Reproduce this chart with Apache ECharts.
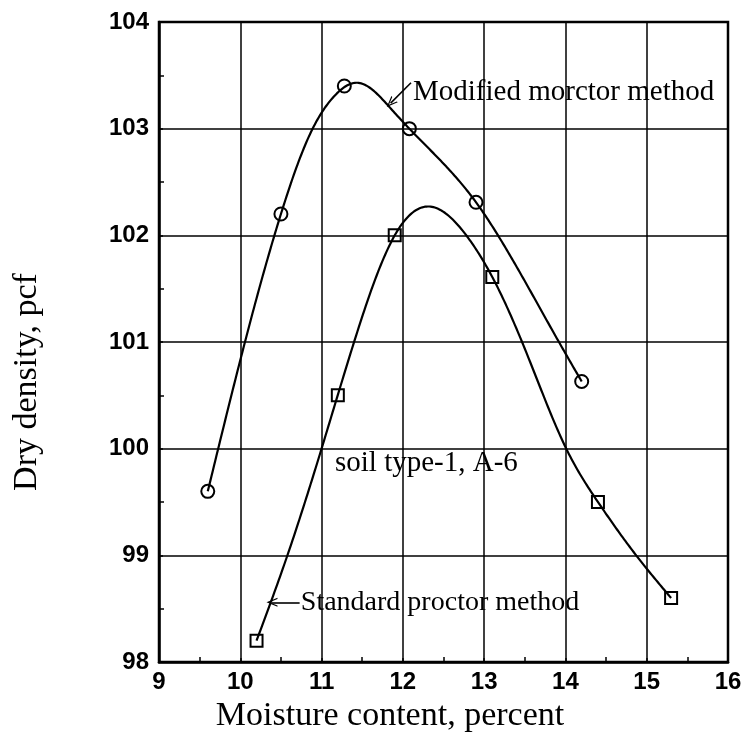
<!DOCTYPE html>
<html>
<head>
<meta charset="utf-8">
<script src="https://cdn.jsdelivr.net/npm/echarts@6/dist/echarts.min.js"></script>
<style>
html,body{margin:0;padding:0;background:#fff;}
#chart{width:746px;height:741px;}
</style>
</head>
<body>
<div id="chart"></div>
<script>
// ---- data ----
var xTicks = [9, 10, 11, 12, 13, 14, 15, 16];
var yTicks = [98, 99, 100, 101, 102, 103, 104];

// measured points
var modifiedX = [9.6, 10.5, 11.28, 12.08, 12.9, 14.2];
var modifiedY = [99.6, 102.2, 103.4, 103.0, 102.31, 100.63];
var standardX = [10.2, 11.2, 11.9, 13.1, 14.4, 15.3];
var standardY = [98.2, 100.5, 102.0, 101.61, 99.5, 98.6];

// fitted curves, points
var modifiedCurveX = [9.6, 10.0, 10.5, 10.89, 11.15, 11.45, 11.85, 12.08, 12.9, 13.17, 13.92, 14.2];
var modifiedCurveY = [99.6, 100.83, 102.2, 103.0, 103.3, 103.43, 103.19, 103.0, 102.31, 102.0, 101.0, 100.63];
var standardCurveX = [10.2, 10.58, 11.0, 11.4, 11.9, 12.33, 12.78, 13.1, 13.52, 14.01, 14.4, 14.87, 15.3];
var standardCurveY = [98.2, 99.0, 100.0, 101.0, 102.0, 102.27, 102.0, 101.61, 100.9, 100.0, 99.5, 99.0, 98.6];

var labels = {
  modified: 'Modified morctor method',
  standard: 'Standard proctor method',
  soil: 'soil type-1, A-6',
  xTitle: 'Moisture content, percent',
  yTitle: 'Dry density, pcf'
};

function zip(a, b) { return a.map(function (v, i) { return [v, b[i]]; }); }

// natural cubic spline through the read curve points (used only to draw the smooth line)
function naturalSpline(xs, ys) {
  var n = xs.length, h = [], alpha = [], l = [], mu = [], z = [], b = [], c = [], d = [];
  for (var i = 0; i < n - 1; i++) h[i] = xs[i + 1] - xs[i];
  for (i = 1; i < n - 1; i++) alpha[i] = 3 / h[i] * (ys[i + 1] - ys[i]) - 3 / h[i - 1] * (ys[i] - ys[i - 1]);
  l[0] = 1; mu[0] = 0; z[0] = 0;
  for (i = 1; i < n - 1; i++) {
    l[i] = 2 * (xs[i + 1] - xs[i - 1]) - h[i - 1] * mu[i - 1];
    mu[i] = h[i] / l[i];
    z[i] = (alpha[i] - h[i - 1] * z[i - 1]) / l[i];
  }
  c[n - 1] = 0;
  for (var j = n - 2; j >= 0; j--) {
    c[j] = z[j] - mu[j] * c[j + 1];
    b[j] = (ys[j + 1] - ys[j]) / h[j] - h[j] * (c[j + 1] + 2 * c[j]) / 3;
    d[j] = (c[j + 1] - c[j]) / (3 * h[j]);
  }
  return function (x) {
    var k = 0;
    while (k < n - 2 && x > xs[k + 1]) k++;
    var t = x - xs[k];
    return ys[k] + b[k] * t + c[k] * t * t + d[k] * t * t * t;
  };
}

function curveSeries(name, xs, ys) {
  var f = naturalSpline(xs, ys);
  return {
    name: name, type: 'custom', silent: true, clip: false,
    data: zip(xs, ys),
    encode: {x: 0, y: 1},
    renderItem: function (params, api) {
      if (params.dataIndex !== 0) return null;
      var pts = [], x0 = xs[0], x1 = xs[xs.length - 1], N = 300;
      for (var s = 0; s <= N; s++) {
        var x = x0 + (x1 - x0) * s / N;
        pts.push(api.coord([x, f(x)]));
      }
      return {
        type: 'polyline',
        shape: {points: pts},
        style: {stroke: '#000', lineWidth: 2.2, fill: null}
      };
    }
  };
}

var serif = '"Liberation Serif", "Times New Roman", serif';
var sans = '"Liberation Sans", Arial, sans-serif';
var chevron = 'path://M0,10 L5,0 L10,10 L8.6,10 L5,2.8 L1.4,10 Z';

var chart = echarts.init(document.getElementById('chart'), null, {renderer: 'canvas'});

var option = {
  animation: false,
  backgroundColor: '#fff',
  grid: {
    left: 159, right: 18, top: 22, bottom: 79,
    show: true, borderColor: '#000', borderWidth: 2.5, backgroundColor: 'transparent'
  },
  xAxis: {
    type: 'value', min: xTicks[0], max: xTicks[xTicks.length - 1], interval: 1,
    axisLine: {show: true, lineStyle: {color: '#000', width: 2.5}},
    axisTick: {show: true, inside: true, length: 4, lineStyle: {color: '#000', width: 1.5}},
    minorTick: {show: true, splitNumber: 2, length: 5, lineStyle: {color: '#000', width: 1.5}},
    splitLine: {show: true, lineStyle: {color: '#000', width: 1.5}},
    axisLabel: {color: '#000', fontSize: 24, fontWeight: 'bold', fontFamily: sans, margin: 8}
  },
  yAxis: {
    type: 'value', min: yTicks[0], max: yTicks[yTicks.length - 1], interval: 1,
    axisLine: {show: true, lineStyle: {color: '#000', width: 2.5}},
    axisTick: {show: true, inside: true, length: 4, lineStyle: {color: '#000', width: 1.5}},
    minorTick: {show: true, splitNumber: 2, length: 5, lineStyle: {color: '#000', width: 1.5}},
    splitLine: {show: true, lineStyle: {color: '#000', width: 1.5}},
    axisLabel: {color: '#000', fontSize: 24, fontWeight: 'bold', fontFamily: sans, margin: 10}
  },
  series: [
    curveSeries('Modified curve', modifiedCurveX, modifiedCurveY),
    curveSeries('Standard curve', standardCurveX, standardCurveY),
    {
      name: 'Modified points', type: 'scatter', data: zip(modifiedX, modifiedY),
      symbol: 'circle', symbolSize: 13, silent: true,
      itemStyle: {color: 'rgba(0,0,0,0)', borderColor: '#000', borderWidth: 2, opacity: 1}
    },
    {
      name: 'Standard points', type: 'scatter', data: zip(standardX, standardY),
      symbol: 'rect', symbolSize: 12, silent: true,
      itemStyle: {color: 'rgba(0,0,0,0)', borderColor: '#000', borderWidth: 2, opacity: 1}
    },
    {
      name: 'Annotations', type: 'scatter', symbolSize: 0, silent: true,
      itemStyle: {opacity: 1},
      data: [
        {value: [12.125, 103.34], label: {formatter: labels.modified, fontSize: 29}},
        {value: [10.745, 98.56], label: {formatter: labels.standard, fontSize: 28}},
        {value: [11.165, 99.86], label: {formatter: labels.soil, fontSize: 29}}
      ],
      label: {
        show: true, position: 'right', distance: 0, opacity: 1,
        color: '#000', fontFamily: serif, align: 'left', verticalAlign: 'middle'
      },
      markLine: {
        silent: true, animation: false,
        label: {show: false},
        lineStyle: {color: '#000', width: 1.6, type: 'solid', opacity: 1},
        symbolSize: [9, 11],
        data: [
          [
            {coord: [12.1, 103.43], symbol: 'none'},
            {coord: [11.85, 103.24], symbol: chevron}
          ],
          [
            {coord: [10.73, 98.56], symbol: 'none'},
            {coord: [10.39, 98.56], symbol: chevron}
          ]
        ]
      }
    }
  ],
  graphic: [
    {
      type: 'text', x: 390, y: 716,
      style: {text: labels.xTitle, fill: '#000', font: '34px ' + serif, align: 'center', verticalAlign: 'middle'}
    },
    {
      type: 'text', x: 27, y: 382, rotation: Math.PI / 2,
      style: {text: labels.yTitle, fill: '#000', font: '34px ' + serif, align: 'center', verticalAlign: 'middle'}
    }
  ]
};
chart.setOption(option);
</script>
</body>
</html>
